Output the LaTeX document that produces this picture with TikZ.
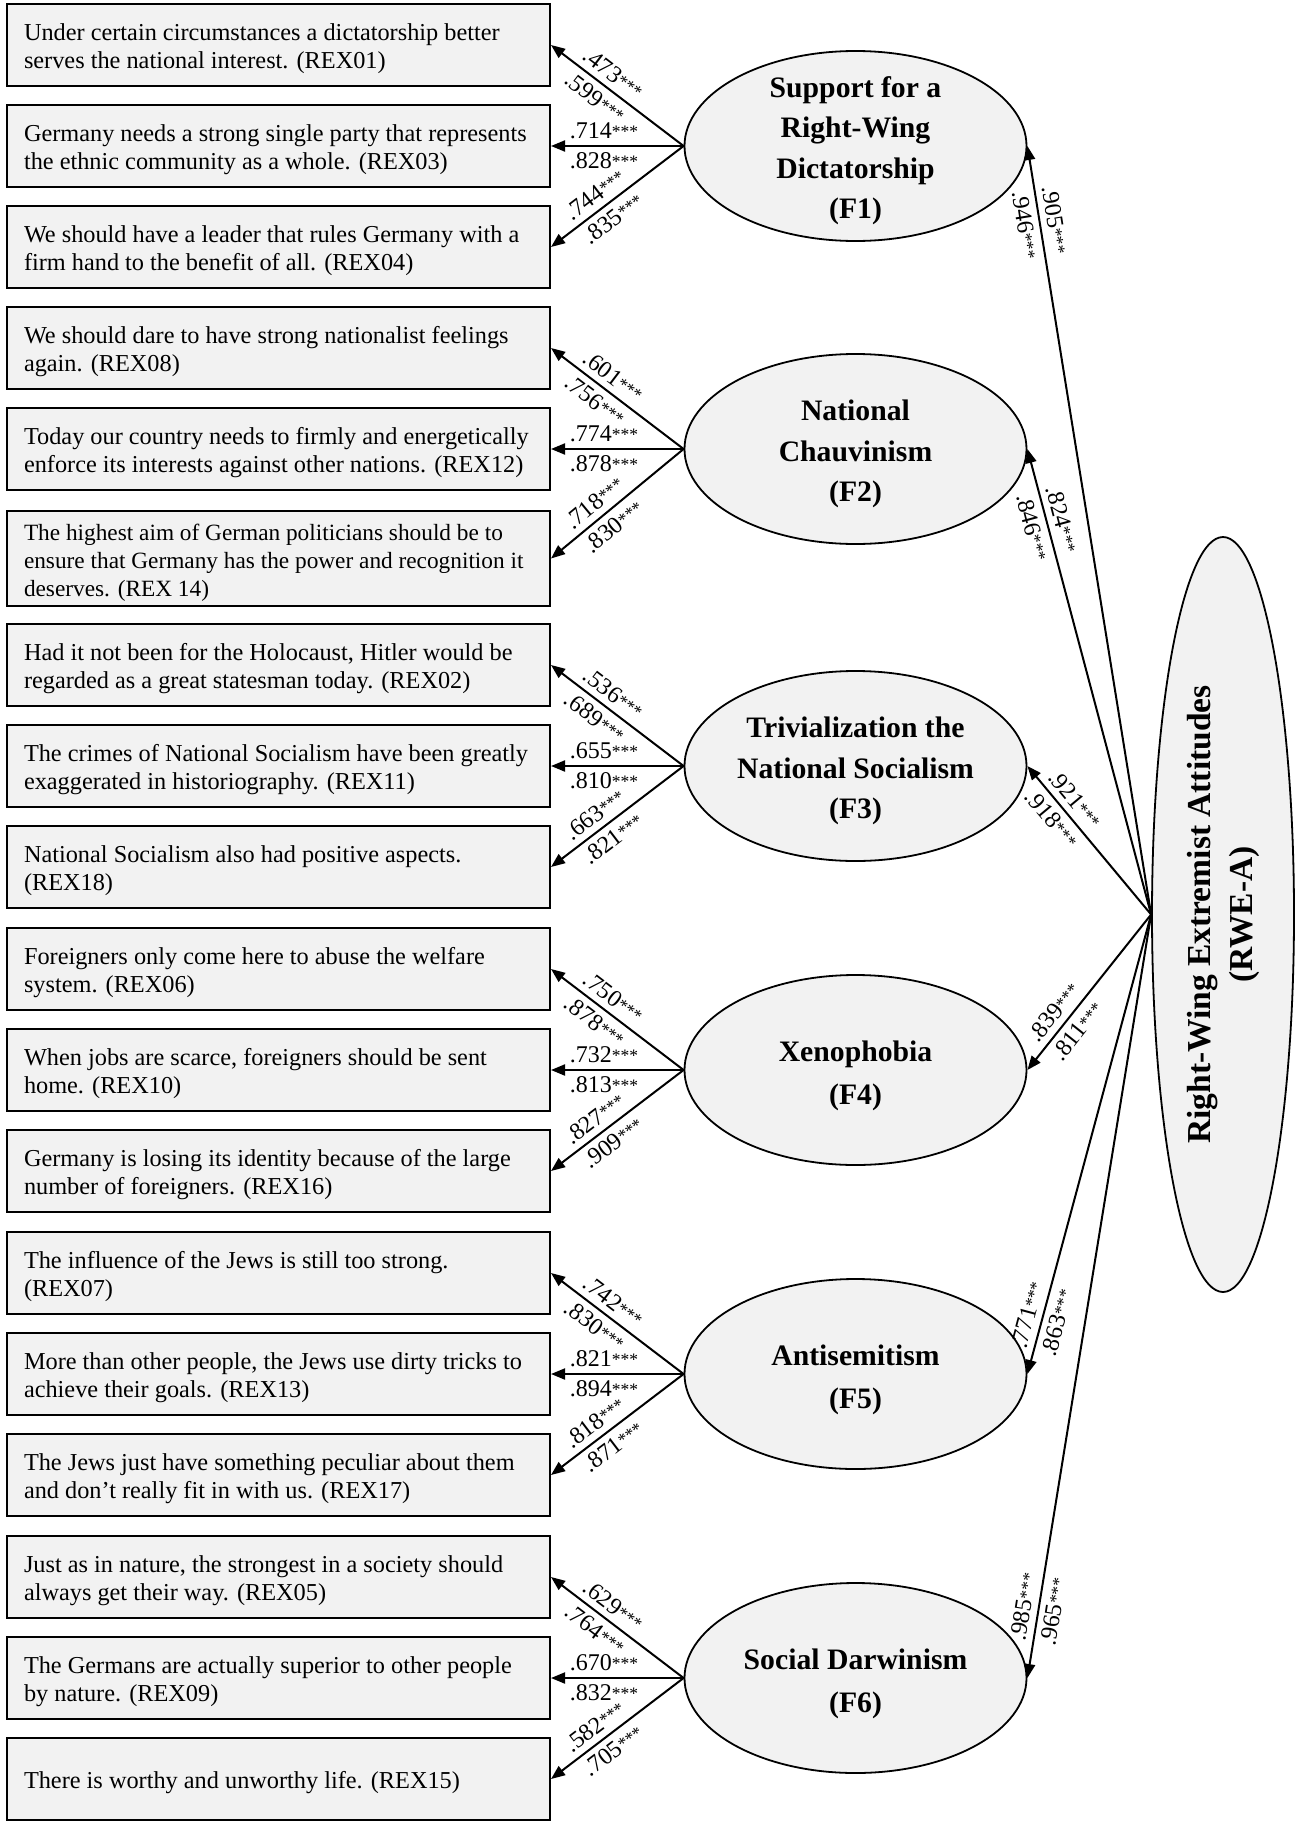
\documentclass[tikz,border=0pt]{standalone}
\usepackage{fontspec}
\setmainfont{Liberation Serif}
\usetikzlibrary{shapes.geometric,arrows.meta}
\definecolor{boxgray}{HTML}{F2F2F2}
\newcommand{\mylinesL}[1]{\makebox[509pt][l]{\raisebox{0pt}[\dimexpr\height+8pt\relax]{\begin{tabular}{@{}l@{}}#1\end{tabular}}}}
\newcommand{\mylinesC}[1]{\begin{tabular}{@{}c@{}}#1\end{tabular}}
\newcommand{\stars}{\raisebox{1.5pt}{\fontsize{17.5}{17.5}\selectfont***}}
\tikzset{
  itembox/.style={draw, line width=2pt, fill=boxgray, rectangle, minimum width=543pt,
    minimum height=81.5pt, inner xsep=17pt, inner ysep=0pt,
    font=\fontsize{24.3}{28.5}\selectfont},
  factor/.style={draw, ellipse, line width=1.8pt, fill=boxgray, minimum width=342pt,
    minimum height=190pt, inner sep=0pt},
  ftext/.style={inner sep=0pt, font=\fontsize{29.7}{40.5}\selectfont\bfseries},
  ftexttwo/.style={inner sep=0pt, font=\fontsize{29.7}{43}\selectfont\bfseries},
  arr/.style={line width=2pt, -{Triangle[length=14pt,width=11pt]}},
  lab/.style={sloped, inner sep=2.5pt, font=\fontsize{24}{26}\selectfont},
  la/.style={lab, above=3.5pt},
  lb/.style={lab, below=3.5pt},
}
\begin{document}
\begin{tikzpicture}[x=1pt,y=-1pt]
\useasboundingbox (0,0) rectangle (1299,1825);

% ---------- item boxes ----------
\node[itembox] (b1) at (278.5,45) {\mylinesL{Under certain circumstances a dictatorship better\\serves the national interest. (REX01)}};
\node[itembox] (b2) at (278.5,146) {\mylinesL{Germany needs a strong single party that represents\\the ethnic community as a whole. (REX03)}};
\node[itembox] (b3) at (278.5,247) {\mylinesL{We should have a leader that rules Germany with a\\firm hand to the benefit of all. (REX04)}};

\node[itembox] (b4) at (278.5,348) {\mylinesL{We should dare to have strong nationalist feelings\\again. (REX08)}};
\node[itembox] (b5) at (278.5,449) {\mylinesL{Today our country needs to firmly and energetically\\enforce its interests against other nations. (REX12)}};
\node[itembox, minimum height=95pt, font=\fontsize{23.3}{28}\selectfont] (b6) at (278.5,558.5) {\mylinesL{The highest aim of German politicians should be to\\ensure that Germany has the power and recognition it\\deserves. (REX 14)}};

\node[itembox] (b7) at (278.5,665) {\mylinesL{Had it not been for the Holocaust, Hitler would be\\regarded as a great statesman today. (REX02)}};
\node[itembox] (b8) at (278.5,766) {\mylinesL{The crimes of National Socialism have been greatly\\exaggerated in historiography. (REX11)}};
\node[itembox] (b9) at (278.5,867) {\mylinesL{National Socialism also had positive aspects.\\(REX18)}};

\node[itembox] (b10) at (278.5,969) {\mylinesL{Foreigners only come here to abuse the welfare\\system. (REX06)}};
\node[itembox] (b11) at (278.5,1070) {\mylinesL{When jobs are scarce, foreigners should be sent\\home. (REX10)}};
\node[itembox] (b12) at (278.5,1171) {\mylinesL{Germany is losing its identity because of the large\\number of foreigners. (REX16)}};

\node[itembox] (b13) at (278.5,1273) {\mylinesL{The influence of the Jews is still too strong.\\(REX07)}};
\node[itembox] (b14) at (278.5,1374) {\mylinesL{More than other people, the Jews use dirty tricks to\\achieve their goals. (REX13)}};
\node[itembox] (b15) at (278.5,1475) {\mylinesL{The Jews just have something peculiar about them\\and don’t really fit in with us. (REX17)}};

\node[itembox] (b16) at (278.5,1577) {\mylinesL{Just as in nature, the strongest in a society should\\always get their way. (REX05)}};
\node[itembox] (b17) at (278.5,1678) {\mylinesL{The Germans are actually superior to other people\\by nature. (REX09)}};
\node[itembox] (b18) at (278.5,1779) {\mylinesL{There is worthy and unworthy life. (REX15)}};

% ---------- factor ellipses ----------
\node[factor] (F1) at (855.5,146) {};
\node[ftext] (F1t) at ([yshift=-4pt]F1.center) {\mylinesC{Support for a\\Right-Wing\\Dictatorship\\(F1)}};
\node[factor] (F2) at (855.5,449) {};
\node[ftext] (F2t) at ([yshift=-4pt]F2.center) {\mylinesC{National\\Chauvinism\\(F2)}};
\node[factor] (F3) at (855.5,766) {};
\node[ftext] (F3t) at ([yshift=-4pt]F3.center) {\mylinesC{Trivialization the\\National Socialism\\(F3)}};
\node[factor] (F4) at (855.5,1070) {};
\node[ftexttwo] (F4t) at ([yshift=-4pt]F4.center) {\mylinesC{Xenophobia\\(F4)}};
\node[factor] (F5) at (855.5,1374) {};
\node[ftexttwo] (F5t) at ([yshift=-4pt]F5.center) {\mylinesC{Antisemitism\\(F5)}};
\node[factor] (F6) at (855.5,1678) {};
\node[ftexttwo] (F6t) at ([yshift=-4pt]F6.center) {\mylinesC{Social Darwinism\\(F6)}};

% ---------- second-order factor ----------
\node[draw, ellipse, line width=1.8pt, fill=boxgray, minimum width=142pt, minimum height=755pt, inner sep=0pt] (R) at (1223,914.5) {};
\node[inner sep=0pt, rotate=90, font=\fontsize{33.5}{42}\selectfont\bfseries] (Rt) at (R.center) {\mylinesC{Right-Wing Extremist Attitudes\\(RWE-A)}};

% ---------- loadings: factors -> items ----------
\draw[arr] (F1.west) -- node[la,pos=0.6]{.473\stars} node[lb,pos=0.6]{.599\stars} (b1.east);
\draw[arr] (F1.west) -- node[la,pos=0.6]{.714\stars} node[lb,pos=0.6]{.828\stars} (b2.east);
\draw[arr] (F1.west) -- node[la,pos=0.6]{.744\stars} node[lb,pos=0.6]{.835\stars} (b3.east);

\draw[arr] (F2.west) -- node[la,pos=0.6]{.601\stars} node[lb,pos=0.6]{.756\stars} (b4.east);
\draw[arr] (F2.west) -- node[la,pos=0.6]{.774\stars} node[lb,pos=0.6]{.878\stars} (b5.east);
\draw[arr] (F2.west) -- node[la,pos=0.6]{.718\stars} node[lb,pos=0.6]{.830\stars} (b6.east);

\draw[arr] (F3.west) -- node[la,pos=0.6]{.536\stars} node[lb,pos=0.6]{.689\stars} (b7.east);
\draw[arr] (F3.west) -- node[la,pos=0.6]{.655\stars} node[lb,pos=0.6]{.810\stars} (b8.east);
\draw[arr] (F3.west) -- node[la,pos=0.6]{.663\stars} node[lb,pos=0.6]{.821\stars} (b9.east);

\draw[arr] (F4.west) -- node[la,pos=0.6]{.750\stars} node[lb,pos=0.6]{.878\stars} (b10.east);
\draw[arr] (F4.west) -- node[la,pos=0.6]{.732\stars} node[lb,pos=0.6]{.813\stars} (b11.east);
\draw[arr] (F4.west) -- node[la,pos=0.6]{.827\stars} node[lb,pos=0.6]{.909\stars} (b12.east);

\draw[arr] (F5.west) -- node[la,pos=0.6]{.742\stars} node[lb,pos=0.6]{.830\stars} (b13.east);
\draw[arr] (F5.west) -- node[la,pos=0.6]{.821\stars} node[lb,pos=0.6]{.894\stars} (b14.east);
\draw[arr] (F5.west) -- node[la,pos=0.6]{.818\stars} node[lb,pos=0.6]{.871\stars} (b15.east);

\draw[arr] (F6.west) -- node[la,pos=0.6]{.629\stars} node[lb,pos=0.6]{.764\stars} (b16.east);
\draw[arr] (F6.west) -- node[la,pos=0.6]{.670\stars} node[lb,pos=0.6]{.832\stars} (b17.east);
\draw[arr] (F6.west) -- node[la,pos=0.6]{.582\stars} node[lb,pos=0.6]{.705\stars} (b18.east);

% ---------- loadings: RWE-A -> factors ----------
\draw[arr] (R.west) -- node[la,pos=0.9]{.905\stars} node[lb,pos=0.9]{.946\stars} (F1.east);
\draw[arr] (R.west) -- node[la,pos=0.84]{.824\stars} node[lb,pos=0.84]{.846\stars} (F2.east);
\draw[arr] (R.west) -- node[la,pos=0.71]{.921\stars} node[lb,pos=0.71]{.918\stars} (F3.east);
\draw[arr] (R.west) -- node[la,pos=0.69]{.839\stars} node[lb,pos=0.69]{.811\stars} (F4.east);
\draw[arr] (R.west) -- node[la,pos=0.88]{.771\stars} node[lb,pos=0.88]{.863\stars} (F5.east);
\draw[arr] (R.west) -- node[la,pos=0.91]{.985\stars} node[lb,pos=0.91]{.965\stars} (F6.east);
\end{tikzpicture}
\end{document}
